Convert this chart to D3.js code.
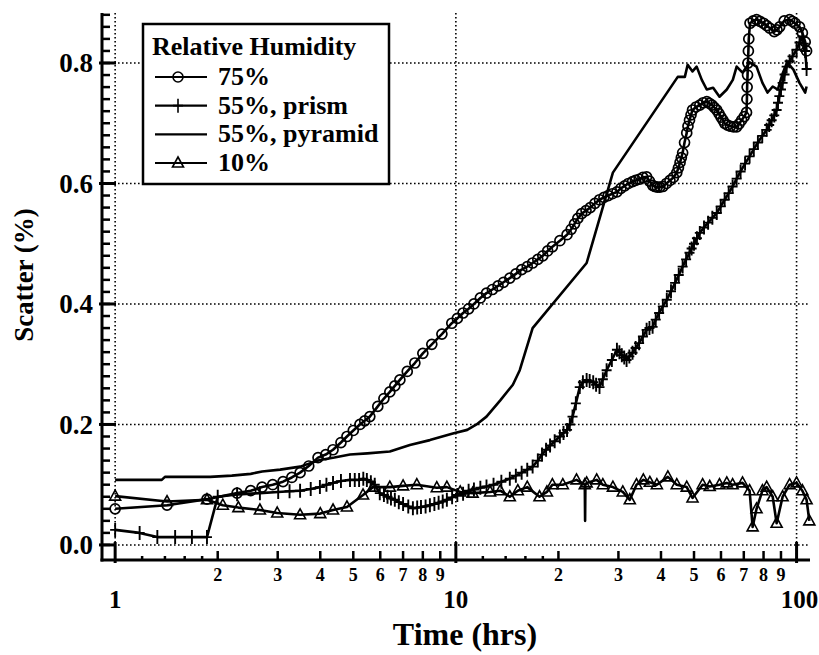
<!DOCTYPE html>
<html>
<head>
<meta charset="utf-8">
<script src="https://cdn.jsdelivr.net/npm/d3@7"></script>
<style>
  body { margin: 0; background: #fff; }
  svg { display: block; font-family: "Liberation Serif", "Times New Roman", serif; font-weight: bold; }
</style>
</head>
<body>
<svg id="chart" width="819" height="655"></svg>
<script>
// values: [time (hrs), scatter (%)]
const rh75 = [
  [1.00,0.060],[1.42,0.066],[1.86,0.076],[2.28,0.086],[2.50,0.090],[2.70,0.096],[2.90,0.100],
  [3.11,0.105],[3.30,0.112],[3.49,0.120],[3.70,0.131],[3.94,0.145],[4.15,0.150],[4.36,0.158],
  [4.60,0.170],[4.79,0.180],[5.00,0.190],[5.23,0.200],[5.40,0.206],[5.59,0.213],[5.90,0.230],
  [6.15,0.243],[6.40,0.254],[6.62,0.264],[6.85,0.274],[7.20,0.288],[7.58,0.302],[8.00,0.318],
  [8.50,0.333],[9.10,0.350],[9.73,0.368],[10.1,0.376],[10.5,0.385],[10.9,0.392],[11.3,0.400],
  [11.8,0.410],[12.3,0.418],[12.8,0.424],[13.3,0.430],[13.8,0.436],[14.4,0.443],[15.0,0.450],
  [15.6,0.457],[16.2,0.462],[16.8,0.468],[17.4,0.474],[18.0,0.480],[18.6,0.488],[19.2,0.495],
  [20.2,0.505],[21.2,0.515],[21.8,0.524],[22.3,0.533],[22.8,0.542],[23.4,0.550],[24.1,0.555],
  [24.8,0.560],[25.6,0.567],[26.4,0.573],[27.2,0.577],[28.0,0.580],[28.8,0.583],[29.7,0.586],
  [30.5,0.592],[31.3,0.596],[32.1,0.600],[33.0,0.603],[33.7,0.605],[34.5,0.607],[35.4,0.610],
  [36.3,0.611],[37.0,0.604],[37.8,0.597],[38.4,0.595],[39.0,0.594],[39.7,0.594],[40.5,0.595],
  [41.5,0.600],[42.5,0.605],[43.5,0.610],[44.5,0.618],[45.0,0.626],[45.5,0.635],[45.9,0.643],
  [46.3,0.651],[46.9,0.668],[47.6,0.684],[48.0,0.695],[48.5,0.705],[49.0,0.714],[49.5,0.722],
  [50.7,0.727],[52.0,0.730],[53.2,0.734],[54.5,0.736],[55.5,0.733],[56.5,0.730],[57.4,0.726],
  [58.3,0.722],[59.2,0.716],[60.0,0.710],[60.8,0.705],[61.5,0.700],[62.7,0.697],[64.0,0.695],
  [65.3,0.694],[66.7,0.694],[67.8,0.699],[69.0,0.705],[70.2,0.711],[71.3,0.718],[71.5,0.740],
  [71.6,0.760],[71.8,0.780],[72.0,0.800],[72.2,0.820],[72.4,0.840],[73.0,0.866],[74.6,0.870],
  [76.3,0.872],[78.1,0.869],[80.0,0.866],[81.7,0.862],[83.4,0.858],[86.0,0.852],[87.6,0.855],
  [89.2,0.860],[92.0,0.870],[95.4,0.872],[97.2,0.869],[99.0,0.866],[102,0.860],[104,0.850],
  [106,0.835],[107,0.820]
];
const prism55 = [
  [1.00,0.025],[1.18,0.020],[1.33,0.013],[1.50,0.013],[1.68,0.013],[1.86,0.013],[2.00,0.080],
  [2.28,0.084],[2.66,0.086],[3.01,0.088],[3.25,0.089],[3.49,0.090],[3.75,0.093],[3.99,0.096],
  [4.17,0.100],[4.36,0.103],[4.60,0.106],[4.89,0.108],[5.05,0.108],[5.20,0.108],[5.35,0.110],
  [5.48,0.108],[5.63,0.104],[5.78,0.100],[5.98,0.086],[6.15,0.083],[6.30,0.080],[6.45,0.077],
  [6.62,0.075],[6.80,0.071],[7.00,0.068],[7.25,0.064],[7.48,0.061],[7.70,0.062],[7.90,0.063],
  [8.15,0.064],[8.39,0.066],[8.65,0.068],[8.90,0.070],[9.15,0.072],[9.41,0.075],[9.75,0.079],
  [10.1,0.083],[10.5,0.085],[10.9,0.090],[11.3,0.092],[11.8,0.095],[12.3,0.097],[12.9,0.100],
  [13.6,0.105],[14.4,0.110],[15.0,0.115],[15.6,0.120],[16.2,0.125],[16.8,0.130],[17.4,0.140],
  [17.9,0.150],[18.4,0.158],[18.9,0.165],[19.5,0.172],[20.2,0.180],[20.7,0.186],[21.2,0.191],
  [21.6,0.200],[22.0,0.213],[22.5,0.235],[23.1,0.262],[23.6,0.270],[24.2,0.274],[24.7,0.272],
  [25.3,0.270],[25.8,0.266],[26.4,0.262],[27.0,0.275],[27.7,0.290],[28.7,0.307],[29.7,0.324],
  [30.2,0.320],[30.7,0.315],[31.2,0.311],[31.7,0.307],[32.3,0.313],[33.0,0.319],[33.7,0.327],
  [34.5,0.335],[35.4,0.346],[36.3,0.357],[37.0,0.360],[37.8,0.362],[38.6,0.374],[39.5,0.385],
  [40.5,0.396],[41.6,0.407],[42.8,0.421],[44.0,0.435],[45.1,0.448],[46.3,0.462],[47.4,0.474],
  [48.5,0.485],[49.2,0.492],[50.0,0.500],[51.0,0.509],[52.0,0.518],[53.5,0.527],[55.0,0.535],
  [56.6,0.543],[58.3,0.551],[59.9,0.562],[61.5,0.573],[63.2,0.584],[64.9,0.595],[66.7,0.608],
  [68.5,0.620],[70.6,0.633],[72.8,0.645],[74.9,0.657],[77.0,0.668],[79.3,0.679],[81.7,0.689],
  [83.1,0.697],[84.5,0.705],[86.0,0.713],[87.4,0.722],[88.2,0.734],[89.0,0.745],[90.0,0.756],
  [91.0,0.767],[92.2,0.781],[93.5,0.794],[95.4,0.803],[97.3,0.811],[100,0.822],[102,0.834],
  [104,0.844],[105,0.832],[106,0.820],[107,0.790]
];
const pyramid55 = [
  [1.00,0.108],[1.37,0.108],[1.40,0.113],[1.90,0.113],[2.20,0.115],[2.50,0.118],[2.70,0.122],
  [3.05,0.125],[3.49,0.130],[3.99,0.141],[4.40,0.145],[4.89,0.150],[5.50,0.152],[6.40,0.155],
  [7.33,0.166],[8.39,0.174],[9.80,0.185],[10.8,0.191],[11.5,0.200],[12.3,0.213],[13.5,0.240],
  [14.7,0.266],[15.4,0.290],[16.8,0.360],[24.2,0.468],[28.9,0.618],[44.8,0.777],[47.0,0.777],
  [47.9,0.797],[49.5,0.786],[50.9,0.794],[52.7,0.772],[54.5,0.756],[56.9,0.759],[59.4,0.744],
  [62.4,0.756],[65.0,0.772],[66.7,0.794],[69.4,0.784],[72.8,0.801],[76.3,0.794],[79.4,0.767],
  [82.2,0.751],[85.1,0.761],[88.1,0.756],[91.2,0.784],[93.8,0.801],[97.9,0.789],[102,0.767],
  [106,0.751],[107,0.761]
];
// third value 0 marks a point drawn without a symbol (the spike near 24 h)
const rh10 = [
  [1.00,0.081],[1.42,0.072],[1.86,0.075],[2.07,0.066],[2.30,0.062],[2.66,0.058],[2.99,0.053],
  [3.49,0.050],[4.00,0.052],[4.36,0.058],[4.79,0.063],[5.34,0.083],[5.71,0.096],[6.40,0.096],
  [7.00,0.098],[7.68,0.100],[8.79,0.095],[9.41,0.096],[10.3,0.088],[11.2,0.086],[12.6,0.088],
  [13.5,0.090],[14.4,0.080],[15.2,0.090],[16.2,0.096],[17.6,0.080],[18.5,0.088],[19.2,0.100],
  [20.6,0.100],[22.6,0.108],[23.9,0.100],[23.95,0.040,0],[24.0,0.100,0],[24.2,0.103],[25.9,0.108],
  [27.0,0.100],[28.9,0.096],[30.9,0.088],[32.4,0.075],[33.9,0.100],[35.5,0.108],[37.1,0.104],
  [38.9,0.100],[41.9,0.113],[44.5,0.100],[47.6,0.096],[49.5,0.078],[53.0,0.100],[55.6,0.097],
  [59.4,0.100],[62.4,0.103],[64.9,0.100],[69.4,0.103],[72.8,0.090],[74.3,0.030],[76.3,0.060],
  [79.4,0.090],[81.7,0.096],[85.1,0.080],[87.4,0.036],[91.0,0.080],[95.4,0.100],[100,0.103],
  [104,0.090],[107,0.075],[109,0.040]
];
const yTicks = [0, 0.2, 0.4, 0.6, 0.8];
const yMinor = d3.range(0, 0.881, 0.02);
const xMajor = [1, 10, 100];
const xMinor = [2, 3, 4, 5, 6, 7, 8, 9, 20, 30, 40, 50, 60, 70, 80, 90];
const xDots = [1.2, 1.4, 1.6, 1.8, 12, 14, 16, 18];
const legendTitle = "Relative Humidity";
const legendLabels = ["75%", "55%, prism", "55%, pyramid", "10%"];

const padL = 102, padR = 810, padT = 13, padB = 560;

const x = d3.scaleLog().domain([0.915, 109.5]).range([padL, padR]);
const y = d3.scaleLinear().domain([-0.025, 0.883]).range([padB, padT]);

const svg = d3.select("#chart");
svg.append("rect").attr("width", 819).attr("height", 655).attr("fill", "#fff");

// dotted grid
const grid = svg.append("g")
  .attr("stroke", "#000")
  .attr("stroke-width", 1.6)
  .attr("stroke-dasharray", "1.6,2.4");
grid.selectAll(".gh").data(yTicks).enter().append("line")
  .attr("x1", padL).attr("x2", padR)
  .attr("y1", d => y(d)).attr("y2", d => y(d));
grid.selectAll(".gv").data(xMajor).enter().append("line")
  .attr("x1", d => x(d)).attr("x2", d => x(d))
  .attr("y1", padT).attr("y2", padB);

const line = d3.line().x(d => x(d[0])).y(d => y(d[1]));

const circleSym = g => g.append("circle").attr("r", 5);
const plusSym = g => g.append("path").attr("d", "M-5,0H5M0,-7V7");
const triSym = g => g.append("path").attr("d", "M0,-6L5.5,4L-5.5,4Z");

const series = [
  { data: pyramid55, sym: null, sw: 2.6 },
  { data: prism55, sym: plusSym, sw: 1.9 },
  { data: rh10, sym: triSym, sw: 1.6 },
  { data: rh75, sym: circleSym, sw: 1.7 }
];

series.forEach(s => {
  svg.append("path")
    .datum(s.data)
    .attr("fill", "none")
    .attr("stroke", "#000")
    .attr("stroke-width", 2.6)
    .attr("stroke-linejoin", "round")
    .attr("d", line);
  if (s.sym) {
    const m = svg.append("g")
      .attr("fill", "none")
      .attr("stroke", "#000")
      .attr("stroke-width", s.sw)
      .selectAll("g")
      .data(s.data.filter(d => d[2] !== 0))
      .enter().append("g")
      .attr("transform", d => `translate(${x(d[0])},${y(d[1])})`);
    s.sym(m);
  }
});

// y axis
const ya = svg.append("g").attr("stroke", "#000");
ya.append("line").attr("x1", padL).attr("x2", padL).attr("y1", padT).attr("y2", padB + 1.5).attr("stroke-width", 3);
ya.selectAll(".ym").data(yMinor).enter().append("line")
  .attr("x1", padL).attr("x2", padL + 8)
  .attr("y1", d => y(d)).attr("y2", d => y(d))
  .attr("stroke-width", 2.5);
ya.selectAll(".yM").data(yTicks).enter().append("line")
  .attr("x1", padL - 3).attr("x2", padL + 14)
  .attr("y1", d => y(d)).attr("y2", d => y(d))
  .attr("stroke-width", 3);
svg.append("g").selectAll("text").data(yTicks).enter().append("text")
  .attr("x", 93).attr("y", d => y(d))
  .attr("dy", "0.34em")
  .attr("text-anchor", "end")
  .attr("font-size", 27)
  .text(d3.format(".1f"));

// x axis
const xa = svg.append("g").attr("stroke", "#000");
xa.append("line").attr("x1", padL - 1.5).attr("x2", padR).attr("y1", padB).attr("y2", padB).attr("stroke-width", 3);
xa.selectAll(".xm").data(xMinor).enter().append("line")
  .attr("x1", d => x(d)).attr("x2", d => x(d))
  .attr("y1", padB).attr("y2", padB - 9)
  .attr("stroke-width", 2.5);
xa.selectAll(".xd").data(xDots).enter().append("line")
  .attr("x1", d => x(d)).attr("x2", d => x(d))
  .attr("y1", padB).attr("y2", padB - 4)
  .attr("stroke-width", 2.5);
xa.selectAll(".xM").data(xMajor).enter().append("line")
  .attr("x1", d => x(d)).attr("x2", d => x(d))
  .attr("y1", padB + 3).attr("y2", padB - 18)
  .attr("stroke-width", 3);
svg.append("g").selectAll("text").data(xMinor).enter().append("text")
  .attr("x", d => x(d)).attr("y", 581)
  .attr("text-anchor", "middle")
  .attr("font-size", 18)
  .text(d => String(d).charAt(0));
svg.append("g").selectAll("text").data(xMajor).enter().append("text")
  .attr("x", d => x(d) + (d === 100 ? 3 : 0)).attr("y", 608)
  .attr("text-anchor", "middle")
  .attr("font-size", 25)
  .text(d => d);

// axis titles
svg.append("text")
  .attr("x", 465).attr("y", 645)
  .attr("text-anchor", "middle")
  .attr("font-size", 32)
  .text("Time (hrs)");
svg.append("text")
  .attr("transform", "translate(33,275) rotate(-90)")
  .attr("text-anchor", "middle")
  .attr("font-size", 27)
  .text("Scatter (%)");

// legend
const lg = svg.append("g");
lg.append("rect")
  .attr("x", 143).attr("y", 24).attr("width", 246).attr("height", 160)
  .attr("fill", "#fff").attr("stroke", "#000").attr("stroke-width", 2.5);
lg.append("text").attr("x", 152).attr("y", 55).attr("font-size", 26).text(legendTitle);
const rowY = d3.scalePoint().domain(legendLabels).range([77, 163]);
const legendSyms = [circleSym, plusSym, null, triSym];
legendLabels.forEach((lab, i) => {
  const cy = rowY(lab);
  lg.append("line").attr("x1", 155).attr("x2", 207).attr("y1", cy).attr("y2", cy)
    .attr("stroke", "#000").attr("stroke-width", 2.2);
  if (legendSyms[i]) {
    const g = lg.append("g").attr("transform", `translate(178,${cy})`)
      .attr("fill", "none").attr("stroke", "#000").attr("stroke-width", 1.6);
    legendSyms[i](g);
  }
  lg.append("text").attr("x", 218).attr("y", cy + 8).attr("font-size", 26).text(lab);
});
</script>
</body>
</html>
